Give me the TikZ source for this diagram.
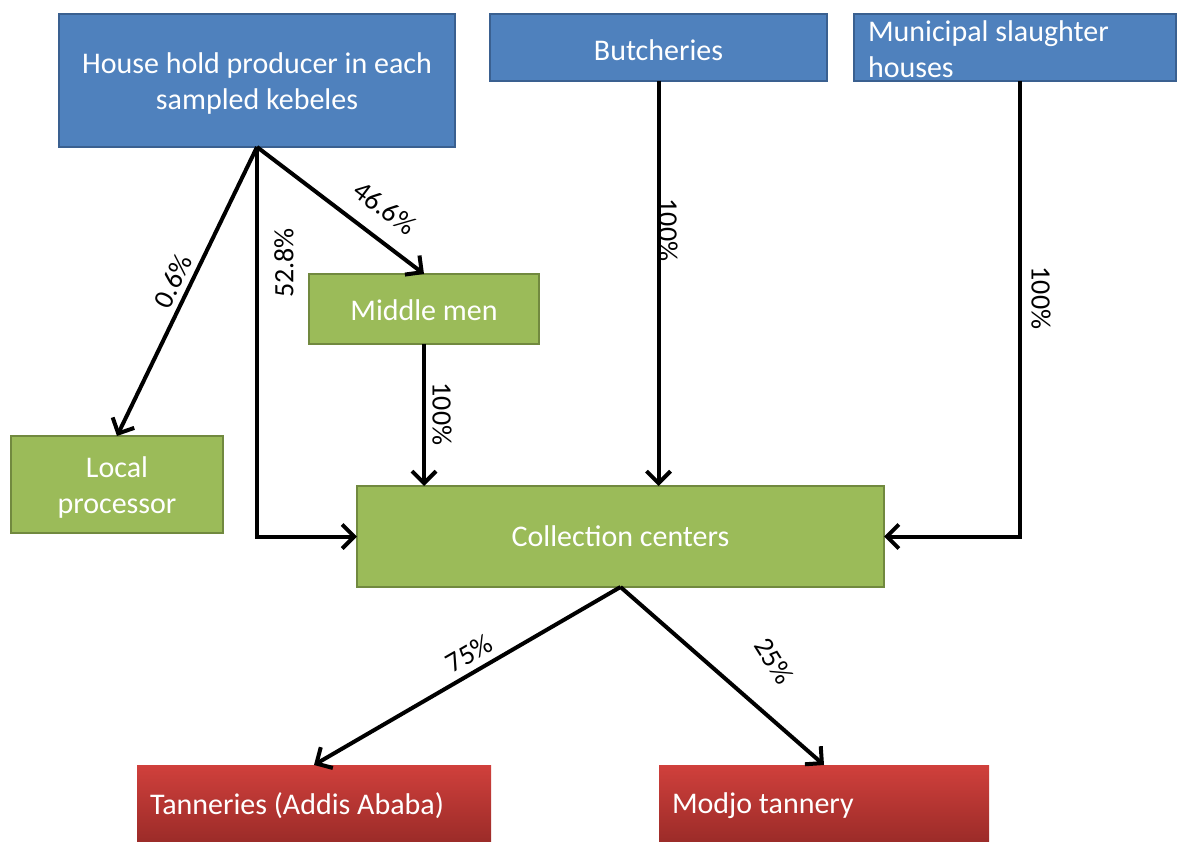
\documentclass[tikz,border=0pt]{standalone}
\usepackage{fontspec}
\setmainfont{Carlito}
\usetikzlibrary{arrows.meta}
\definecolor{bluefill}{HTML}{4F81BD}
\definecolor{blueline}{HTML}{3A6090}
\definecolor{greenfill}{HTML}{9BBB59}
\definecolor{greenline}{HTML}{71893F}
\definecolor{redtop}{HTML}{D0403C}
\definecolor{redbot}{HTML}{982A27}
\begin{document}
\begin{tikzpicture}[x=0.75pt,y=-0.75pt,
  boxtxt/.style={text=white, font=\fontsize{22.5}{27}\selectfont, outer sep=0pt, inner sep=0pt},
  bbox/.style={boxtxt, draw=blueline, fill=bluefill, line width=1.5pt, align=center},
  gbox/.style={boxtxt, draw=greenline, fill=greenfill, line width=1.5pt, align=center},
  rbox/.style={boxtxt, top color=redtop, bottom color=redbot, draw=none, align=flush left},
  arr/.style={line width=3pt, -{Straight Barb[length=9pt,width=18pt,line width=3pt]}},
  lbl/.style={font=\fontsize{21}{25}\selectfont, text=black, inner sep=0pt}]
\useasboundingbox (0,0) rectangle (1185,842);

% boxes
\node[bbox, minimum width=297pt, minimum height=99.75pt] (hh) at (257,80.5)
  {\rule{0pt}{20pt}House hold producer in each\\sampled kebeles};
\node[bbox, minimum width=252.75pt, minimum height=50.25pt] (bu) at (658.5,47.5) {\rule{0pt}{19pt}Butcheries};
\node[bbox, minimum width=241.5pt, minimum height=50.25pt, text width=220.5pt, align=flush left] (ms) at (1015,47.5)
  {\rule{0pt}{18.5pt}Municipal slaughter\\houses};
\node[gbox, minimum width=172.5pt, minimum height=52.5pt] (mm) at (424,309) {\rule{0pt}{17pt}Middle men};
\node[gbox, minimum width=159pt, minimum height=72.75pt] (lp) at (117,484.5) {\rule{0pt}{20pt}Local\\processor};
\node[gbox, minimum width=395.25pt, minimum height=75.75pt] (cc) at (620.5,536.5) {Collection centers};
\node[rbox, minimum width=265.5pt, minimum height=61.5pt, text width=246pt] (ta) at (314,806)
  {Tanneries (Addis Ababa)};
\node[rbox, minimum width=247.5pt, minimum height=61.5pt, text width=228pt] (mo) at (824,806)
  {Modjo tannery};

% connectors
\draw[arr] (hh.south) -- (lp.north);
\draw[arr] (hh.south) |- (cc.west);
\draw[arr] (hh.south) -- (mm.north);
\draw[arr] (mm.south) -- (mm.south |- cc.north);
\draw[arr] (bu.south) -- (bu.south |- cc.north);
\draw[arr] ([xshift=3.75pt]ms.south) |- (cc.east);
\draw[arr] (cc.south) -- (ta.north);
\draw[arr] (cc.south) -- (mo.north);

% labels
\node[lbl, rotate=64] (l1) at (173,281) {0.6\%};
\node[lbl, rotate=90] (l2) at (284,263) {52.8\%};
\node[lbl, rotate=-37] (l3) at (385,208) {46.6\%};
\node[lbl, rotate=-90] (l4) at (442,414) {100\%};
\node[lbl, rotate=-90] (l5) at (668,230) {100\%};
\node[lbl, rotate=-90] (l6) at (1041,298) {100\%};
\node[lbl, rotate=30] (l7) at (469,653) {75\%};
\node[lbl, rotate=-58] (l8) at (774,661) {25\%};
\end{tikzpicture}
\end{document}
